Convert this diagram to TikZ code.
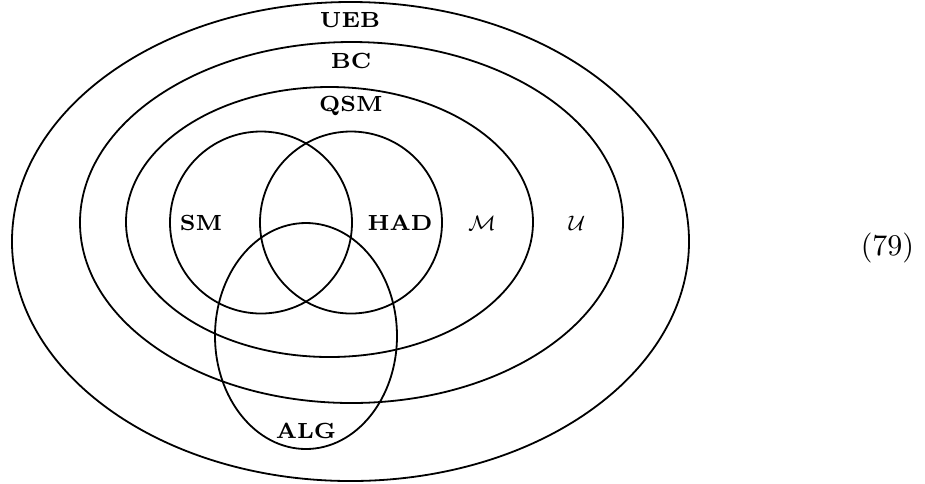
\documentclass[tikz,border=0pt]{standalone}
\usetikzlibrary{shapes.geometric}
\begin{document}
\begin{tikzpicture}[x=0.33333pt,y=-0.33333pt,
  setline/.style={draw, line width=0.6pt, ellipse, inner sep=0pt, outer sep=0pt},
  lbl/.style={inner sep=0pt, font=\fontsize{7.3}{8}\selectfont\bfseries},
  mlbl/.style={inner sep=0pt, font=\fontsize{7.3}{8}\selectfont}]
\path[use as bounding box] (0,0) rectangle (925,483);
% sets
\node[setline, minimum width=225.67pt, minimum height=159.67pt] (ueb) at (350.5,241.5) {};
\node[setline, minimum width=181pt, minimum height=120.33pt] (bc) at (351.5,222.5) {};
\node[setline, minimum width=135.67pt, minimum height=90pt] (qsm) at (329.5,222) {};
\node[setline, minimum width=60.67pt, minimum height=60.67pt] (sm) at (261,222.5) {};
\node[setline, minimum width=60.67pt, minimum height=60.67pt] (had) at (351,222.5) {};
\node[setline, minimum width=60.67pt, minimum height=75.33pt] (alg) at (306,336) {};
% labels
\node[lbl] (tueb) at (350,20.5) {UEB};
\node[lbl] (tbc) at (351,60.5) {BC};
\node[lbl] (tqsm) at (351,105.5) {QSM};
\node[lbl] (tsm) at (201,223) {SM};
\node[lbl] (thad) at (400,223) {HAD};
\node[mlbl] (tm) at (482,223) {$\mathcal{M}$};
\node[mlbl] (tu) at (577,223) {$\mathcal{U}$};
\node[lbl] (talg) at (306,431) {ALG};
\node[inner sep=0pt, font=\fontsize{10}{12}\selectfont] (eqn) at (887.5,247.5) {(79)};
\end{tikzpicture}
\end{document}
